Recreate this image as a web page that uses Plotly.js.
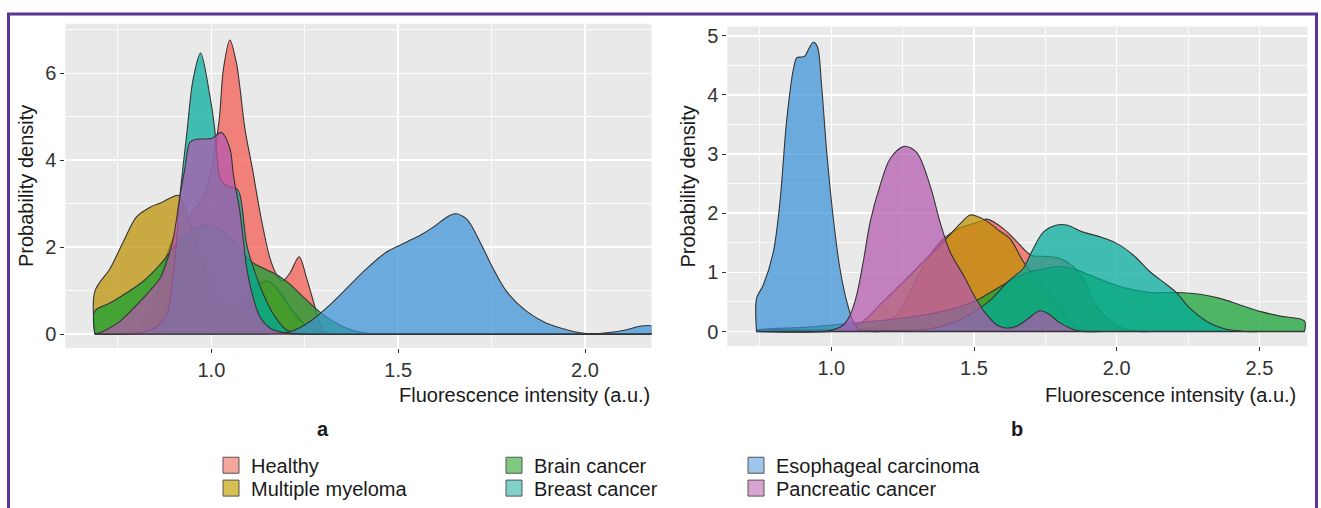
<!DOCTYPE html>
<html>
<head>
<meta charset="utf-8">
<script src="https://cdn.plot.ly/plotly-3.0.1.min.js"></script>
<style>
html,body{margin:0;padding:0;background:#fff;}
#chart{width:1321px;height:508px;}
</style>
</head>
<body>
<div id="chart"></div>
<script>
// ---------- data ----------
const groups = ['Healthy','Multiple myeloma','Brain cancer','Breast cancer','Esophageal carcinoma','Pancreatic cancer'];

// Panel a
const aHealthyX = [0.688,0.75,0.80,0.85,0.88,0.91,0.95,0.98,1.0,1.021,1.032,1.0495,1.067,1.076,1.09,1.11,1.13,1.157,1.175,1.19,1.21,1.235,1.255,1.273,1.286,1.30,1.32,1.36,2.178];
const aHealthyY = [0,0.01,0.1,0.8,1.8,2.4,2.8,3.2,3.8,4.94,6.09,6.77,6.24,5.70,4.71,3.8,2.81,1.74,1.36,1.22,1.4,1.78,1.28,0.75,0.37,0.1,0,0,0];
const aMMX = [0.688,0.729,0.764,0.800,0.836,0.867,0.894,0.912,0.934,0.961,0.983,1.010,1.037,1.059,1.086,1.12,1.15,1.18,1.22,1.26,1.30,1.34,1.38,2.178];
const aMMY = [0.98,1.51,2.12,2.70,2.92,3.03,3.15,3.19,2.80,2.12,1.51,0.98,0.67,0.63,0.82,1.12,1.22,1.0,0.5,0.15,0.03,0,0,0];
const aBrainX = [0.688,0.73,0.764,0.817,0.862,0.90,0.94,0.983,1.02,1.06,1.10,1.121,1.15,1.183,1.21,1.25,1.30,1.35,1.39,1.44,1.48,2.178];
const aBrainY = [0.53,0.72,0.90,1.21,1.59,2.0,2.35,2.52,2.42,2.12,1.72,1.59,1.47,1.32,1.15,0.82,0.44,0.18,0.06,0,0,0];
const aBreastX = [0.688,0.80,0.85,0.88,0.90,0.916,0.934,0.951,0.971,0.996,1.009,1.016,1.025,1.045,1.068,1.077,1.095,1.113,1.14,1.17,1.20,1.24,1.28,2.178];
const aBreastY = [0,0.02,0.15,0.45,1.5,3.19,4.6,5.86,6.47,5.48,4.71,4.0,3.55,3.4,3.34,3.19,2.04,1.51,0.9,0.4,0.1,0,0,0];
const aEsoX = [0.688,1.10,1.15,1.21,1.264,1.317,1.362,1.416,1.469,1.523,1.558,1.594,1.63,1.652,1.683,1.719,1.754,1.79,1.844,1.897,1.951,1.987,2.02,2.058,2.112,2.147,2.178];
const aEsoY = [0,0,0.01,0.05,0.29,0.67,1.05,1.51,1.89,2.12,2.27,2.46,2.69,2.77,2.65,2.12,1.51,0.98,0.52,0.25,0.10,0.03,0.01,0.03,0.10,0.18,0.18];
const aPancX = [0.688,0.71,0.755,0.809,0.862,0.88,0.898,0.916,0.929,0.942,0.956,0.978,1.0,1.027,1.05,1.058,1.066,1.075,1.085,1.095,1.11,1.13,1.16,1.2,1.24,2.178];
const aPancY = [0,0.06,0.29,0.75,1.28,1.66,2.2,3.19,3.80,4.41,4.48,4.49,4.50,4.64,4.26,3.72,3.3,2.9,2.2,1.5,0.9,0.4,0.12,0.02,0,0];

// Panel b
const bHealthyX = [0.738,1.0,1.10,1.15,1.20,1.229,1.27,1.311,1.35,1.393,1.45,1.521,1.545,1.603,1.65,1.70,1.75,1.80,1.848,1.883,1.918,1.965,2.023,2.08,2.12,2.658];
const bHealthyY = [0,0.01,0.04,0.08,0.18,0.28,0.6,1.01,1.32,1.57,1.75,1.86,1.90,1.74,1.52,1.29,1.27,1.24,1.10,0.90,0.51,0.23,0.06,0,0,0];
const bMMX = [0.738,1.0,1.06,1.111,1.17,1.229,1.275,1.322,1.393,1.451,1.486,1.51,1.55,1.59,1.626,1.673,1.70,1.731,1.778,1.825,1.86,1.90,1.95,2.658];
const bMMY = [0,0,0.05,0.17,0.45,0.73,0.95,1.18,1.52,1.82,1.97,1.95,1.85,1.70,1.57,1.18,1.0,0.84,0.56,0.23,0.06,0,0,0];
const bBrainX = [0.738,0.9,1.0,1.2,1.35,1.45,1.51,1.55,1.603,1.65,1.696,1.731,1.79,1.848,1.907,1.965,2.035,2.117,2.21,2.292,2.362,2.432,2.502,2.572,2.658];
const bBrainY = [0.02,0.07,0.11,0.2,0.3,0.42,0.53,0.64,0.79,0.92,1.01,1.04,1.10,1.06,0.95,0.84,0.73,0.66,0.66,0.63,0.56,0.45,0.34,0.26,0.18];
const bBreastX = [0.738,0.9,1.0,1.2,1.35,1.45,1.55,1.62,1.673,1.696,1.743,1.79,1.825,1.883,1.942,2.0,2.059,2.117,2.176,2.211,2.257,2.316,2.374,2.45,2.50,2.658];
const bBreastY = [0.02,0.03,0.03,0.02,0.05,0.2,0.5,0.85,1.07,1.29,1.68,1.80,1.80,1.68,1.60,1.49,1.29,1.01,0.79,0.65,0.39,0.17,0.05,0,0,0];
const bEsoX = [0.738,0.762,0.797,0.820,0.844,0.867,0.879,0.896,0.908,0.919,0.937,0.951,0.966,0.984,1.007,1.030,1.054,1.077,1.10,1.14,1.18,2.658];
const bEsoY = [0.56,0.79,1.35,2.19,3.59,4.43,4.63,4.64,4.66,4.76,4.89,4.82,4.15,3.03,1.91,1.07,0.51,0.17,0.03,0,0,0];
const bPancX = [0.738,0.95,1.0,1.042,1.066,1.089,1.112,1.136,1.171,1.206,1.255,1.299,1.346,1.381,1.416,1.463,1.51,1.545,1.58,1.615,1.65,1.69,1.731,1.76,1.80,1.85,1.88,1.92,2.658];
const bPancY = [0,0,0.02,0.11,0.28,0.62,1.18,1.85,2.47,2.92,3.13,3.03,2.47,1.85,1.35,0.95,0.53,0.28,0.11,0.06,0.09,0.22,0.35,0.30,0.15,0.03,0,0,0];

const aXTicks = [1.0,1.5,2.0];
const bXTicks = [1.0,1.5,2.0,2.5];
const aYTicks = [0,2,4,6];
const bYTicks = [0,1,2,3,4,5];

// ---------- styles ----------
const fillColors = ['rgba(242,88,76,0.72)','rgba(189,144,0,0.72)','rgba(17,161,47,0.72)','rgba(0,171,154,0.72)','rgba(57,146,215,0.72)','rgba(179,88,174,0.72)'];
const keyColors = ['#f4a69d','#d8bf52','#80ca80','#80cfc9','#9ec5ea','#d9a4cf'];
const legendIds = ['legend','legend2','legend3','legend4','legend5','legend6'];
const outline = '#353535';

function densityTrace(xs, ys, i, xa, ya){
  const x = xs.slice(), y = ys.slice();
  if (y[0] > 0){ x.unshift(x[0]); y.unshift(0); }
  if (y[y.length-1] > 0){ x.push(x[x.length-1]); y.push(0); }
  return {type:'scatter', mode:'lines', x:x, y:y, xaxis:xa, yaxis:ya,
    fill:'tozeroy', fillcolor:fillColors[i],
    line:{color:outline, width:1.1, shape:'spline', smoothing:0.9},
    showlegend:false, hoverinfo:'skip', name:groups[i]};
}

const aSets = [[aHealthyX,aHealthyY],[aMMX,aMMY],[aBrainX,aBrainY],[aBreastX,aBreastY],[aEsoX,aEsoY],[aPancX,aPancY]];
const bSets = [[bHealthyX,bHealthyY],[bMMX,bMMY],[bBrainX,bBrainY],[bBreastX,bBreastY],[bEsoX,bEsoY],[bPancX,bPancY]];

const traces = [];
aSets.forEach((s,i)=>traces.push(densityTrace(s[0],s[1],i,'x','y')));
traces.push({type:'scatter',mode:'lines',x:[aHealthyX[0],aHealthyX[aHealthyX.length-1]],y:[0,0],xaxis:'x',yaxis:'y',line:{color:outline,width:1.3},showlegend:false,hoverinfo:'skip'});
bSets.forEach((s,i)=>traces.push(densityTrace(s[0],s[1],i,'x2','y2')));
traces.push({type:'scatter',mode:'lines',x:[bHealthyX[0],bHealthyX[bHealthyX.length-1]],y:[0,0],xaxis:'x2',yaxis:'y2',line:{color:outline,width:1.3},showlegend:false,hoverinfo:'skip'});

// legend keys
groups.forEach((g,i)=>traces.push({type:'scatter',mode:'markers',x:[null],y:[null],xaxis:'x',yaxis:'y',
  name:g, legend:legendIds[i], showlegend:true, hoverinfo:'skip',
  marker:{symbol:'square',size:16,color:keyColors[i],line:{color:'#555',width:1}}}));

const W = 1321, H = 508;
const tickFont = {family:'Liberation Sans, Arial, sans-serif', size:20, color:'#333'};
const titleFont = {family:'Liberation Sans, Arial, sans-serif', size:20, color:'#1a1a1a'};

function xAxis(domain, range, tv, anchor){
  return {domain:domain, range:range, anchor:anchor, tickmode:'array', tickvals:tv, ticktext:tv.map(v=>v.toFixed(1)),
    showgrid:true, gridcolor:'#ffffff', gridwidth:1.6, zeroline:false, showline:false,
    ticks:'outside', ticklen:4, tickwidth:1, tickcolor:'#333', tickfont:tickFont,
    minor:{tickmode:'linear', tick0:0.25, dtick:0.5, showgrid:true, gridcolor:'#ffffff', gridwidth:0.8, ticks:''},
    fixedrange:true};
}
function yAxis(domain, range, tv, minorD, anchor){
  return {domain:domain, range:range, anchor:anchor, tickmode:'array', tickvals:tv, ticktext:tv.map(String),
    showgrid:true, gridcolor:'#ffffff', gridwidth:1.6, zeroline:false, showline:false,
    ticks:'outside', ticklen:4, tickwidth:1, tickcolor:'#333', tickfont:tickFont,
    minor:{tickmode:'linear', tick0:minorD, dtick:minorD*2, showgrid:true, gridcolor:'#ffffff', gridwidth:0.8, ticks:''},
    title:{text:'Probability density', font:titleFont, standoff:6},
    fixedrange:true};
}

function legendAt(px, py){
  return {x:px/W, y:1-py/H, xanchor:'left', yanchor:'middle', bgcolor:'rgba(0,0,0,0)', borderwidth:0,
    font:{family:'Liberation Sans, Arial, sans-serif', size:20, color:'#1a1a1a'}, itemclick:false, itemdoubleclick:false};
}

const layout = {
  width:W, height:H, margin:{l:0,r:0,t:0,b:0,pad:0},
  paper_bgcolor:'#ffffff', plot_bgcolor:'#e9e9e9',
  font:{family:'Liberation Sans, Arial, sans-serif', size:20, color:'#1a1a1a'},
  xaxis: xAxis([65.3/W, 651.5/W], [0.609, 2.178], aXTicks, 'y'),
  yaxis: yAxis([1-350/H, 1-24/H], [-0.32, 7.14], aYTicks, 1, 'x'),
  xaxis2: xAxis([727.3/W, 1307.3/W], [0.6355, 2.668], bXTicks, 'y2'),
  yaxis2: yAxis([1-348.3/H, 1-26.7/H], [-0.249, 5.156], bYTicks, 0.5, 'x2'),
  legend: legendAt(211, 468),
  legend2: legendAt(211, 491),
  legend3: legendAt(494, 468),
  legend4: legendAt(494, 491),
  legend5: legendAt(736, 468),
  legend6: legendAt(736, 491),
  annotations:[
    {text:'Fluorescence intensity (a.u.)', xref:'x domain', yref:'paper', x:1, y:1-397.5/H, xanchor:'right', yanchor:'middle', showarrow:false, font:titleFont},
    {text:'Fluorescence intensity (a.u.)', xref:'x2 domain', yref:'paper', x:1, y:1-397.5/H, xanchor:'right', yanchor:'middle', xshift:-9, showarrow:false, font:titleFont},
    {text:'<b>a</b>', xref:'paper', yref:'paper', x:323/W, y:1-432/H, xanchor:'center', yanchor:'middle', showarrow:false, font:titleFont},
    {text:'<b>b</b>', xref:'paper', yref:'paper', x:1017/W, y:1-432/H, xanchor:'center', yanchor:'middle', showarrow:false, font:titleFont}
  ],
  shapes:[
    {type:'rect', xref:'paper', yref:'paper', x0:8.5/W, x1:1316.5/W, y0:-0.1, y1:1-14/H, line:{color:'#5b3494', width:3}, fillcolor:'rgba(0,0,0,0)', layer:'above'}
  ],
  hovermode:false
};

Plotly.newPlot('chart', traces, layout, {displayModeBar:false, staticPlot:true});
</script>
</body>
</html>
